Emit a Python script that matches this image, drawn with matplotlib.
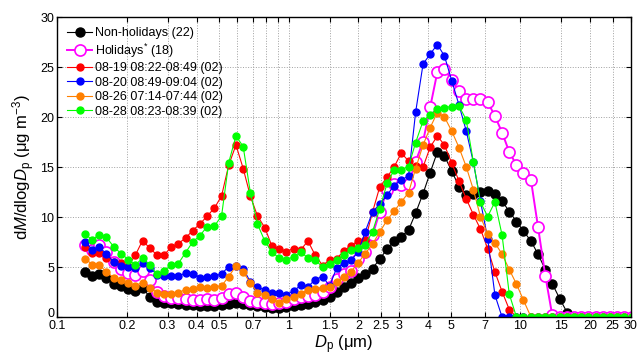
import numpy as np
from matplotlib import pyplot as plt

plt.rcParams['font.family'] = ['Liberation Sans', 'DejaVu Sans']
plt.rcParams['mathtext.fontset'] = 'custom'
plt.rcParams['mathtext.rm'] = 'Liberation Sans'
plt.rcParams['mathtext.it'] = 'Liberation Sans:italic'

# bin diameters (um), 32 channels per decade
dp = [0.132, 0.142, 0.152, 0.163, 0.176, 0.189, 0.203, 0.218, 0.234, 0.251,
      0.270, 0.290, 0.311, 0.334, 0.359, 0.385, 0.414, 0.445, 0.478, 0.513,
      0.551, 0.592, 0.636, 0.683, 0.733, 0.788, 0.846, 0.909, 0.976, 1.05,
      1.13, 1.21, 1.30, 1.40, 1.50, 1.61, 1.73, 1.86, 2.00, 2.14,
      2.30, 2.47, 2.66, 2.85, 3.06, 3.29, 3.53, 3.80, 4.08, 4.38,
      4.70, 5.05, 5.43, 5.83, 6.26, 6.72, 7.22, 7.76, 8.33, 8.95,
      9.61, 10.3, 11.1, 11.9, 12.8, 13.7, 14.8, 15.9, 17.0, 18.3,
      19.6, 21.1, 22.7, 24.3, 26.2, 28.1, 30.2]

nonhol = [4.5, 4.1, 4.35, 3.9, 3.35, 3.1, 2.85, 2.6, 2.95, 2.0, 1.5, 1.45, 1.4,
          1.3, 1.25, 1.2, 1.15, 1.15, 1.15, 1.2, 1.35, 1.45, 1.35, 1.2, 1.1, 1.0, 0.95, 0.9, 1.05,
          1.1, 1.2, 1.35, 1.55, 1.7, 2.0, 2.5, 3.0, 3.45, 3.95, 4.3, 4.85, 5.8, 6.8, 7.6, 8.05, 8.7,
          10.4, 12.35, 14.45, 16.5, 16.1, 14.6, 13.05, 12.2, 12.3, 12.5, 12.6, 12.35,
          11.6, 10.55, 9.55, 8.6, 7.6, 6.3, 4.75, 3.35, 1.8, 0.45,
          0, 0, 0, 0, 0, 0, 0, 0, 0]

hol = [7.2, 6.7, 7.2, 6.5, 5.5, 4.85, 4.45, 4.25, 4.6, 3.7, 2.55, 2.1, 1.95,
       1.9, 1.85, 1.75, 1.7, 1.8, 1.7, 1.95, 2.3, 2.4, 2.0, 1.6, 1.5, 1.45, 1.35, 1.4, 1.5,
       1.8, 2.0, 2.1, 2.2, 2.5, 3.0, 3.8, 4.3, 4.6, 5.85, 6.5, 8.2, 10.5, 12.7, 13.35, 13.2, 13.3,
       15.55, 17.55, 21.0, 24.5, 24.8, 23.7, 22.6, 21.85, 21.8, 21.85, 21.5, 20.1,
       18.45, 16.5, 15.2, 14.45, 13.7, 9.05, 4.15, 0.25, 0, 0,
       0, 0, 0, 0, 0, 0, 0, 0, 0]

d0819 = [7.05, 6.4, 6.4, 5.9, 5.55, 5.4, 5.1, 6.2, 7.65, 6.9, 6.2, 6.2, 7.0,
         7.35, 7.9, 8.65, 9.3, 10.1, 10.9, 12.1, 15.2, 17.2, 14.85, 12.1, 10.1, 8.95, 7.1, 6.85, 6.55,
         6.85, 6.75, 7.6, 6.2, 5.15, 5.7, 5.85, 6.6, 7.15, 7.65, 7.7, 10.5, 13.0, 14.0, 15.0, 16.4, 15.6,
         15.1, 15.0, 17.0, 18.1, 17.2, 15.4, 13.6, 11.85, 10.25, 8.8, 6.85, 4.5,
         2.55, 0.75, 0, 0, 0, 0, 0, 0, 0, 0,
         0, 0, 0, 0, 0, 0, 0, 0, 0]

d0820 = [7.5, 6.75, 7.05, 6.3, 5.5, 5.15, 5.0, 4.9, 5.4, 4.95, 4.25, 4.15, 4.1,
         4.1, 4.4, 4.35, 3.95, 4.05, 4.1, 4.3, 5.05, 5.1, 4.85, 3.5, 3.0, 2.7, 2.4, 2.45, 2.25,
         2.6, 3.2, 3.0, 3.75, 4.05, 3.1, 4.9, 5.4, 5.7, 6.55, 8.55, 10.5, 11.3, 12.2, 13.15, 13.7, 14.1,
         20.5, 25.3, 26.3, 27.25, 26.1, 23.65, 21.2, 18.65, 15.5, 11.6, 7.85, 2.2,
         0, 0, 0, 0, 0, 0, 0, 0, 0, 0,
         0, 0, 0, 0, 0, 0, 0, 0, 0]

d0826 = [5.85, 5.25, 5.2, 4.55, 3.9, 3.7, 3.4, 3.15, 3.45, 2.95, 2.45, 2.3, 2.35,
         2.45, 2.75, 2.8, 3.0, 2.9, 3.05, 3.1, 4.05, 5.1, 4.5, 3.4, 2.45, 2.2, 1.85, 1.45, 1.8,
         2.05, 2.35, 2.75, 2.8, 2.95, 3.05, 3.5, 4.05, 4.55, 5.45, 6.35, 7.3, 8.5, 9.7, 10.6, 11.5, 12.45,
         14.85, 17.2, 18.95, 20.45, 20.0, 18.6, 16.95, 15.05, 12.75, 10.05, 8.3, 7.4,
         6.3, 4.75, 3.3, 1.7, 0, 0, 0, 0, 0, 0,
         0, 0, 0, 0, 0, 0, 0, 0, 0]

d0828 = [8.3, 7.7, 8.25, 8.0, 7.0, 6.35, 5.75, 5.2, 5.9, 5.2, 4.3, 4.6, 5.2,
         5.35, 6.45, 7.5, 8.15, 9.05, 9.1, 10.1, 15.45, 18.1, 17.05, 12.45, 9.3, 7.6, 6.5, 5.9, 5.7,
         6.05, 6.5, 5.9, 5.7, 5.0, 5.35, 5.7, 6.25, 6.7, 6.95, 7.2, 8.55, 10.8, 13.4, 14.7, 14.75, 15.05,
         17.45, 19.6, 20.2, 20.85, 20.95, 21.05, 21.1, 19.75, 15.55, 11.5, 10.05, 11.5,
         8.2, 2.3, 0, 0, 0, 0, 0, 0, 0, 0,
         0, 0, 0, 0, 0, 0, 0, 0, 0]

xtick_vals = [0.1, 0.2, 0.3, 0.4, 0.5, 0.6, 0.7, 0.8, 0.9, 1, 1.5, 2, 2.5, 3, 4, 5, 7, 10, 15, 20, 25, 30]
xtick_labs = ['0.1', '0.2', '0.3', '0.4', '0.5', '', '0.7', '', '', '1', '1.5', '2', '2.5', '3', '4', '5', '7',
              '10', '15', '20', '25', '30']

fig = plt.figure(figsize=(6.38, 3.57), dpi=100)
ax = fig.add_axes([57/638, 40/357, 574/638, 300/357])

ax.plot(dp, nonhol, '-o', color='black', lw=0.8, ms=6.5, label='Non-holidays (22)')
ax.plot(dp, hol, '-o', color='#ff00ff', lw=1.4, ms=8, mfc='white', mew=1.2, label='Holidays$^{*}$ (18)')
ax.plot(dp, d0819, '-o', color='#ff0000', lw=0.8, ms=5, label='08-19 08:22-08:49 (02)')
ax.plot(dp, d0820, '-o', color='#0000ff', lw=0.8, ms=5, label='08-20 08:49-09:04 (02)')
ax.plot(dp, d0826, '-o', color='#ff8000', lw=0.8, ms=5, label='08-26 07:14-07:44 (02)')
ax.plot(dp, d0828, '-o', color='#00ff00', lw=0.8, ms=5, label='08-28 08:23-08:39 (02)')

ax.set_xscale('log')
ax.set_xlim(0.1, 30)
ax.set_ylim(0, 30)
ax.set_xticks(xtick_vals)
ax.set_xticklabels(xtick_labs)
ax.xaxis.set_minor_locator(plt.NullLocator())
ax.set_yticks([0, 5, 10, 15, 20, 25, 30])
ax.tick_params(direction='in', top=True, right=True, labelsize=9, length=3.5, width=0.8, pad=2)
ax.grid(True, linestyle=':', color='#a0a0a0', linewidth=0.7)
for s in ax.spines.values():
    s.set_linewidth(1.0)

# "0" sits on the axis line so it clears "0.1"
ax.yaxis.get_major_ticks()[0].label1.set_verticalalignment('baseline')

ax.set_xlabel('$D_\\mathrm{p}$ (\u03bcm)', fontsize=12, labelpad=1)
ax.set_ylabel('d$M$/dlog$D_\\mathrm{p}$ (\u03bcg m$^{-3}$)', fontsize=12, labelpad=2)

ax.legend(loc='upper left', frameon=False, fontsize=9, handlelength=2.0, handletextpad=0.25,
          labelspacing=0.2, borderaxespad=0.4, borderpad=0.4)

plt.savefig('out.png', dpi=100)
